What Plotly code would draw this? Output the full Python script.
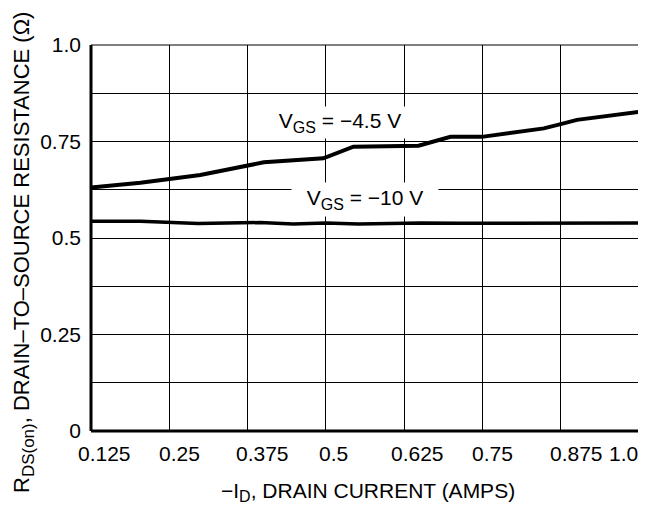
import plotly.graph_objects as go

# ---- data ----
id_45 = [0.125, 0.204, 0.2995, 0.374, 0.401, 0.496, 0.544, 0.648, 0.699, 0.749, 0.848, 0.875, 0.901, 1.0]
r_45 = [0.631, 0.643, 0.663, 0.689, 0.696, 0.7065, 0.7365, 0.739, 0.762, 0.762, 0.784, 0.795, 0.806, 0.827]

id_10 = [0.125, 0.204, 0.296, 0.395, 0.448, 0.5, 0.552, 0.651, 0.715, 0.85, 1.0]
r_10 = [0.5435, 0.5435, 0.5375, 0.540, 0.5365, 0.539, 0.5365, 0.539, 0.538, 0.538, 0.539]

x_tickvals = [0.125, 0.25, 0.375, 0.5, 0.625, 0.75, 0.875, 1.0]
x_ticktext = ["0.125", "0.25", "0.375", "0.5", "0.625", "0.75", "0.875", "1.0"]
x_label_shift = [13, 10, 15, 8, 13, 10, 16, -16]  # pixel offsets of labels, as in the reference

y_tickvals = [0, 0.125, 0.25, 0.375, 0.5, 0.625, 0.75, 0.875, 1.0]
y_ticktext = ["0", "", "0.25", "", "0.5", "", "0.75", "", "1.0"]

FONT = "Liberation Sans, Arial, sans-serif"
FS = 21
SUB = "<sub><span style='font-size:{}px'>{}</span></sub>"

fig = go.Figure()
fig.add_trace(go.Scatter(x=id_45, y=r_45, mode="lines",
                         line=dict(color="black", width=4), showlegend=False))
fig.add_trace(go.Scatter(x=id_10, y=r_10, mode="lines",
                         line=dict(color="black", width=3.5), showlegend=False))

# page body has an 8px margin: figure is sized/offset to compensate
fig.update_layout(
    width=638, height=497,
    margin=dict(l=83, r=7, t=37, b=74, autoexpand=False),
    paper_bgcolor="white", plot_bgcolor="white",
    font=dict(family=FONT, size=FS, color="black"),
    xaxis=dict(range=[0.125, 1.0], tickvals=x_tickvals, showticklabels=False,
               showgrid=True, gridcolor="black", gridwidth=1, zeroline=False,
               showline=False, ticks="", automargin=False),
    yaxis=dict(range=[0, 1.0], tickvals=y_tickvals, ticktext=y_ticktext,
               showgrid=True, gridcolor="black", gridwidth=1, zeroline=False,
               showline=False, ticks="", ticklabelstandoff=9, automargin=False,
               tickfont=dict(family=FONT, size=FS, color="black")),
)

# frame
fig.add_shape(type="line", xref="paper", yref="paper", x0=0, x1=1, y0=1, y1=1,
              line=dict(color="black", width=1))
fig.add_shape(type="line", xref="paper", yref="paper", x0=1, x1=1, y0=0, y1=1,
              line=dict(color="black", width=1.5))
fig.add_shape(type="line", xref="paper", yref="paper", x0=0, x1=0, y0=0, y1=1,
              line=dict(color="black", width=3))
fig.add_shape(type="line", xref="paper", yref="paper", x0=0, x1=1, y0=0, y1=0,
              line=dict(color="black", width=3))

# x tick labels
for v, t, s in zip(x_tickvals, x_ticktext, x_label_shift):
    fig.add_annotation(x=v, y=0, xref="x", yref="paper", text=t, showarrow=False,
                       xanchor="center", yanchor="middle", xshift=s, yshift=-22,
                       font=dict(family=FONT, size=FS, color="black"))

# axis titles
fig.add_annotation(x=(367.5 - 91) / 548, y=(431 - 492) / 386, xref="paper", yref="paper",
                   text="−I" + SUB.format(16, "D") + ", DRAIN CURRENT (AMPS)", showarrow=False,
                   xanchor="center", yanchor="middle",
                   font=dict(family=FONT, size=FS, color="black"))
fig.add_annotation(x=(23 - 91) / 548, y=(431 - 253) / 386, xref="paper", yref="paper",
                   text="R" + SUB.format(17, "DS(on)") + ", DRAIN–TO–SOURCE RESISTANCE (Ω)",
                   showarrow=False, textangle=-90, xanchor="center", yanchor="middle",
                   font=dict(family=FONT, size=22, color="black"))

# curve labels
fig.add_annotation(x=0.523, y=0.8005, xref="x", yref="y",
                   text="V" + SUB.format(16, "GS") + " = −4.5 V", showarrow=False,
                   bgcolor="white", width=140, height=31, borderpad=0,
                   xanchor="center", yanchor="middle",
                   font=dict(family=FONT, size=FS, color="black"))
fig.add_annotation(x=0.563, y=0.601, xref="x", yref="y",
                   text="V" + SUB.format(16, "GS") + " = −10 V", showarrow=False,
                   bgcolor="white", width=146, height=33, borderpad=0,
                   xanchor="center", yanchor="middle",
                   font=dict(family=FONT, size=FS, color="black"))

fig.write_html("out.html")
